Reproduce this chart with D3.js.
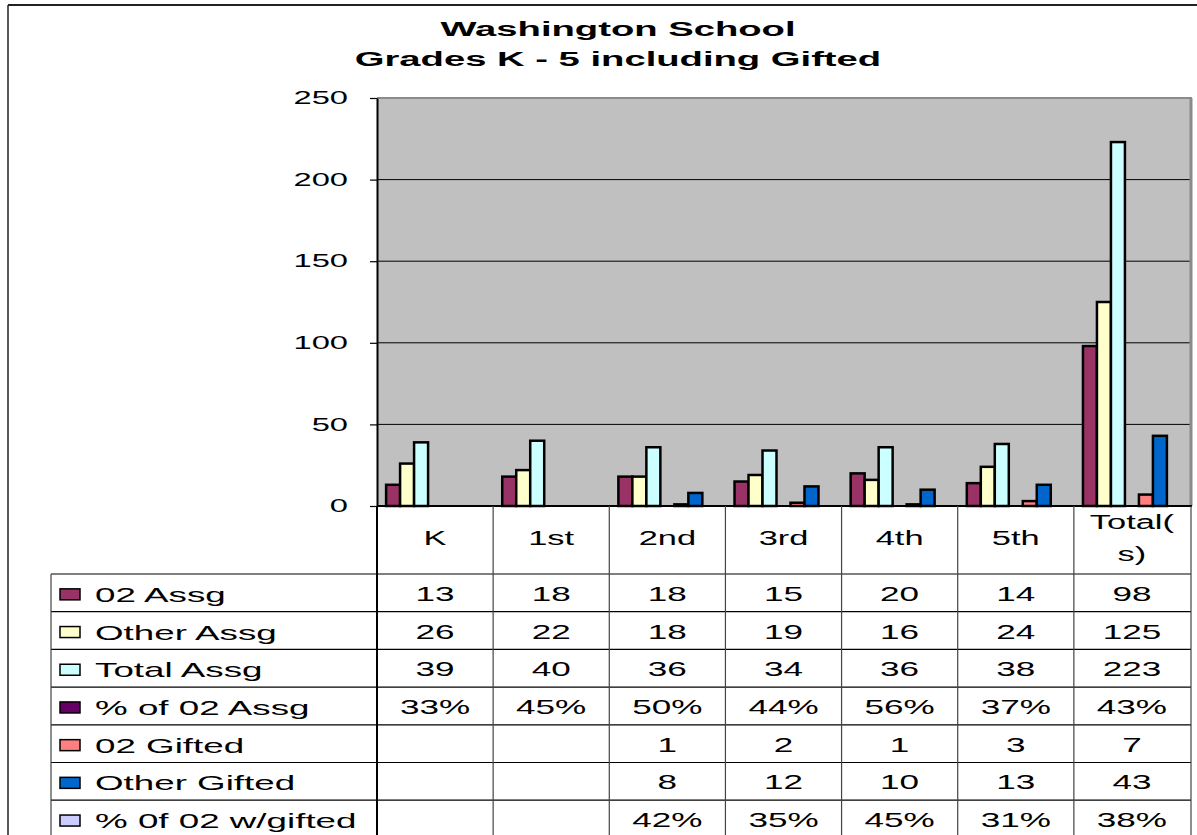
<!DOCTYPE html>
<html lang="en">
<head>
<meta charset="UTF-8">
<title>Washington School</title>
<script src="https://d3js.org/d3.v7.min.js"></script>
<style>
    body {
        margin: 0;
        padding: 0;
        background: #ffffff;
        font-family: "Liberation Sans", Arial, sans-serif;
    }
    svg text {
        fill: #000;
    }
</style>
</head>
<body>
<div id="chart"></div>
<script>
    // Chart data
    const categories = ["K", "1st", "2nd", "3rd", "4th", "5th", "Total(s)"];
    const categoryLabels = [["K"], ["1st"], ["2nd"], ["3rd"], ["4th"], ["5th"], ["Total(", "s)"]];
    const seriesNames = ["02 Assg", "Other Assg", "Total Assg", "% of 02 Assg", "02 Gifted", "Other Gifted", "% 0f 02 w/gifted"];

    const assg02 = [13, 18, 18, 15, 20, 14, 98];
    const otherAssg = [26, 22, 18, 19, 16, 24, 125];
    const totalAssg = [39, 40, 36, 34, 36, 38, 223];
    const pctOf02Assg = [0.33, 0.45, 0.50, 0.44, 0.56, 0.37, 0.43];
    const gifted02 = [null, null, 1, 2, 1, 3, 7];
    const otherGifted = [null, null, 8, 12, 10, 13, 43];
    const pctOf02Gifted = [null, null, 0.42, 0.35, 0.45, 0.31, 0.38];

    const yTicks = [0, 50, 100, 150, 200, 250];

    const seriesValues = [assg02, otherAssg, totalAssg, pctOf02Assg, gifted02, otherGifted, pctOf02Gifted];
    const isPercent = [false, false, false, true, false, false, true];

    // Layout
    const W = 1197, H = 835;
    const plot = {left: 377, right: 1190, top: 98, bottom: 506};
    const tableLeft = 51;
    const headerBottom = 574;
    const rowH = 37.7;
    const STRETCH = 1.72;   // the reference text is drawn wide

    const color = d3.scaleOrdinal()
        .domain(seriesNames)
        .range(["#993366", "#FFFFCC", "#CCFFFF", "#660066", "#FF8080", "#0066CC", "#CCCCFF"]);

    const x = d3.scaleBand().domain(categories).range([plot.left, plot.right]);
    const x1 = d3.scaleBand().domain(seriesNames).range([0, x.bandwidth()]).paddingOuter(0.65);
    const y = d3.scaleLinear().domain([0, 250]).range([plot.bottom, plot.top]);

    const svg = d3.select("#chart").append("svg")
        .attr("width", W)
        .attr("height", H);

    // widen text like the original rendering
    function stretch(sel, k) {
        sel.each(function() {
            const len = this.getComputedTextLength();
            if (len > 0) {
                d3.select(this)
                    .attr("textLength", len * k)
                    .attr("lengthAdjust", "spacingAndGlyphs");
            }
        });
    }

    // outer frame
    svg.append("line").attr("x1", 8).attr("x2", W).attr("y1", 5).attr("y2", 5)
        .attr("stroke", "#222").attr("stroke-width", 2);
    svg.append("line").attr("x1", 8).attr("x2", 8).attr("y1", 5).attr("y2", H)
        .attr("stroke", "#222").attr("stroke-width", 1.5);

    // title
    const title = svg.append("g");
    title.selectAll("text")
        .data(["Washington School", "Grades K - 5 including Gifted"])
        .enter().append("text")
        .attr("x", 618)
        .attr("y", (d, i) => 36 + i * 30)
        .attr("text-anchor", "middle")
        .attr("font-size", 20)
        .attr("font-weight", "bold")
        .text(d => d);
    stretch(title.selectAll("text"), 1.91);

    // plot area
    svg.append("rect")
        .attr("x", plot.left).attr("y", plot.top)
        .attr("width", plot.right - plot.left).attr("height", plot.bottom - plot.top)
        .attr("fill", "#C0C0C0");

    // gridlines
    svg.append("g").selectAll("line")
        .data(yTicks.filter(t => t > 0 && t < 250))
        .enter().append("line")
        .attr("x1", plot.left).attr("x2", plot.right)
        .attr("y1", d => y(d)).attr("y2", d => y(d))
        .attr("stroke", "#000").attr("stroke-width", 1);

    // plot border (top/right in gray)
    svg.append("line").attr("x1", plot.left).attr("x2", plot.right + 2)
        .attr("y1", plot.top).attr("y2", plot.top)
        .attr("stroke", "#8a8a8a").attr("stroke-width", 2);
    svg.append("line").attr("x1", plot.right + 1).attr("x2", plot.right + 1)
        .attr("y1", plot.top).attr("y2", plot.bottom)
        .attr("stroke", "#8a8a8a").attr("stroke-width", 3);

    // bars
    const barData = [];
    seriesNames.forEach((s, si) => {
        categories.forEach((c, ci) => {
            const v = seriesValues[si][ci];
            if (v !== null) barData.push({series: s, cat: c, value: v});
        });
    });

    svg.append("g").selectAll("rect")
        .data(barData)
        .enter().append("rect")
        .attr("x", d => x(d.cat) + x1(d.series))
        .attr("y", d => y(d.value))
        .attr("width", x1.bandwidth())
        .attr("height", d => y(0) - y(d.value))
        .attr("fill", d => color(d.series))
        .attr("stroke", d => (y(0) - y(d.value)) < 1 ? "none" : "#000")
        .attr("stroke-width", 2.5);

    // y axis
    const yAxis = svg.append("g")
        .attr("transform", `translate(${plot.left},0)`)
        .call(d3.axisLeft(y).tickValues(yTicks).tickSize(7).tickSizeOuter(0).tickPadding(22));
    yAxis.select(".domain").attr("stroke", "#000").attr("stroke-width", 2);
    yAxis.selectAll(".tick line").attr("stroke", "#000").attr("stroke-width", 1.2);
    yAxis.selectAll(".tick text")
        .attr("font-size", 19)
        .attr("font-family", "'Liberation Sans', Arial, sans-serif")
        .attr("fill", "#000")
        .attr("dy", "0.3em");
    stretch(yAxis.selectAll(".tick text"), STRETCH);

    // data table
    const table = svg.append("g");
    const tableBottom = headerBottom + rowH * seriesNames.length;
    const colEdges = categories.map(c => x(c)).concat([plot.right + 1]);

    // horizontal lines
    table.selectAll("line.h")
        .data(d3.range(seriesNames.length + 1))
        .enter().append("line")
        .attr("class", "h")
        .attr("x1", tableLeft).attr("x2", plot.right + 1)
        .attr("y1", i => headerBottom + i * rowH).attr("y2", i => headerBottom + i * rowH)
        .attr("stroke", "#000").attr("stroke-width", 1.2);
    // baseline across header top
    table.append("line").attr("x1", plot.left).attr("x2", plot.right + 2)
        .attr("y1", plot.bottom).attr("y2", plot.bottom)
        .attr("stroke", "#000").attr("stroke-width", 2);

    // vertical lines
    table.selectAll("line.v")
        .data(colEdges)
        .enter().append("line")
        .attr("class", "v")
        .attr("x1", d => d).attr("x2", d => d)
        .attr("y1", plot.bottom).attr("y2", tableBottom)
        .attr("stroke", (d, i) => i === 0 ? "#000" : "#444")
        .attr("stroke-width", (d, i) => i === 0 ? 2 : 1.2);
    table.append("line").attr("x1", tableLeft).attr("x2", tableLeft)
        .attr("y1", headerBottom).attr("y2", tableBottom)
        .attr("stroke", "#444").attr("stroke-width", 1.2);

    // category header labels
    const header = table.append("g");
    categories.forEach((c, ci) => {
        const lines = categoryLabels[ci];
        const mid = (plot.bottom + headerBottom) / 2;
        lines.forEach((t, li) => {
            header.append("text")
                .attr("x", x(c) + x.bandwidth() / 2)
                .attr("y", mid + 5 + (li - (lines.length - 1) / 2) * 32)
                .attr("text-anchor", "middle")
                .attr("font-size", 20)
                .text(t);
        });
    });
    stretch(header.selectAll("text"), STRETCH);

    // legend keys + names
    const legend = table.append("g");
    seriesNames.forEach((s, si) => {
        const mid = headerBottom + si * rowH + rowH / 2;
        legend.append("rect")
            .attr("x", 60).attr("y", mid - 4)
            .attr("width", 20).attr("height", 11)
            .attr("fill", color(s))
            .attr("stroke", "#000").attr("stroke-width", 1.5);
        legend.append("text")
            .attr("class", "lab")
            .attr("x", 95).attr("y", mid + 9)
            .attr("font-size", 21)
            .text(s);
    });
    stretch(legend.selectAll("text.lab"), 1.75);

    // cell values
    const fmtPct = d3.format(".0%");
    const cells = table.append("g");
    seriesNames.forEach((s, si) => {
        const mid = headerBottom + si * rowH + rowH / 2;
        categories.forEach((c, ci) => {
            const v = seriesValues[si][ci];
            if (v === null) return;
            cells.append("text")
                .attr("x", x(c) + x.bandwidth() / 2)
                .attr("y", mid + 8)
                .attr("text-anchor", "middle")
                .attr("font-size", 21)
                .text(isPercent[si] ? fmtPct(v) : v);
        });
    });
    stretch(cells.selectAll("text"), 1.67);
</script>
</body>
</html>
